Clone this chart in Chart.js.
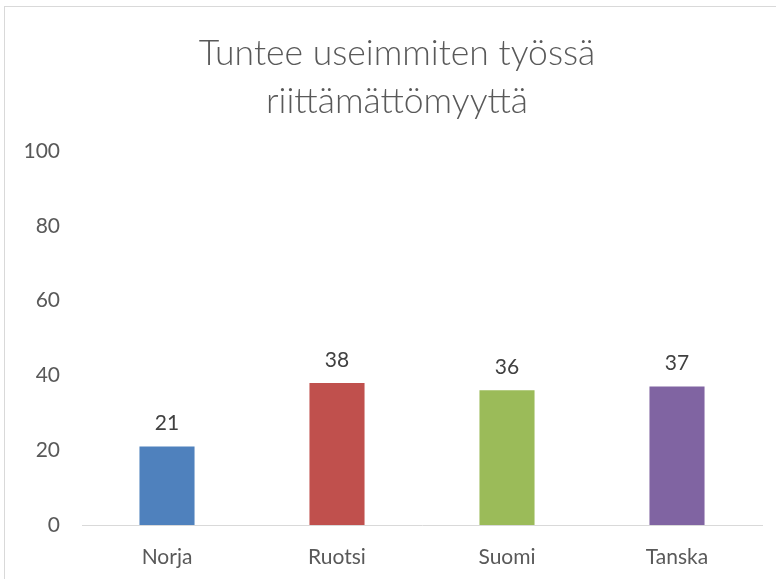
<!DOCTYPE html>
<html>
<head>
<meta charset="utf-8">
<script src="https://cdn.jsdelivr.net/npm/chart.js@4"></script>
<style>
  html, body { margin: 0; padding: 0; background: #fff; }
  #wrap { position: relative; width: 776px; height: 579px; overflow: hidden; }
  #frame { position: absolute; left: 4px; top: 6px; width: 800px; height: 600px; border: 1px solid #d9d9d9; box-sizing: border-box; }
  #title { position: absolute; left: 97px; width: 600px; top: 28px; text-align: center;
           font: 300 35.5px/48px Lato, 'Open Sans', sans-serif; color: #595959; }
  canvas { position: absolute; left: 0; top: 0; }
</style>
</head>
<body>
<div id="wrap">
  <div id="frame"></div>
  <canvas id="chart" width="776" height="579"></canvas>
  <div id="title"></div>
</div>
<script>
const titleLines = ["Tuntee useimmiten työssä", "riittämättömyyttä"];
const countries = ["Norja", "Ruotsi", "Suomi", "Tanska"];
const values = [21, 38, 36, 37];
const barColors = ["#4f81bd", "#c0504d", "#9bbb59", "#8064a2"];
const yTicks = [0, 20, 40, 60, 80, 100];

const font = "Lato, 'Open Sans', sans-serif";

document.getElementById("title").innerHTML = titleLines.join("<br>");

// numbers above each bar
const valueLabels = {
  id: "valueLabels",
  afterDatasetsDraw(chart) {
    const ctx = chart.ctx;
    const meta = chart.getDatasetMeta(0);
    ctx.save();
    ctx.font = "21px " + font;
    ctx.fillStyle = "#404040";
    ctx.textAlign = "center";
    ctx.textBaseline = "middle";
    meta.data.forEach((bar, i) => {
      ctx.fillText(values[i], bar.x, bar.y - 23);
    });
    ctx.restore();
  }
};

new Chart(document.getElementById("chart"), {
  type: "bar",
  data: {
    labels: countries,
    datasets: [{
      data: values,
      backgroundColor: barColors,
      barPercentage: 0.54,
      categoryPercentage: 0.6
    }]
  },
  options: {
    responsive: false,
    animation: false,
    layout: { padding: { left: 6, right: 14, top: 151, bottom: 9 } },
    plugins: {
      legend: { display: false },
      tooltip: { enabled: false },
      title: { display: false }
    },
    scales: {
      x: {
        afterFit(scale) { scale.height = 45; },
        grid: { display: false, drawTicks: false },
        border: { display: true, color: "#d9d9d9", width: 1 },
        ticks: { color: "#595959", font: { family: font, size: 21 }, padding: 20 }
      },
      y: {
        min: 0,
        max: 100,
        afterBuildTicks(scale) {
          scale.ticks = yTicks.map(v => ({ value: v }));
        },
        afterFit(scale) { scale.width = 76; },
        grid: { display: false, drawTicks: false },
        border: { display: false },
        ticks: { color: "#595959", font: { family: font, size: 21 }, padding: 22 }
      }
    }
  },
  plugins: [valueLabels]
});
</script>
</body>
</html>
